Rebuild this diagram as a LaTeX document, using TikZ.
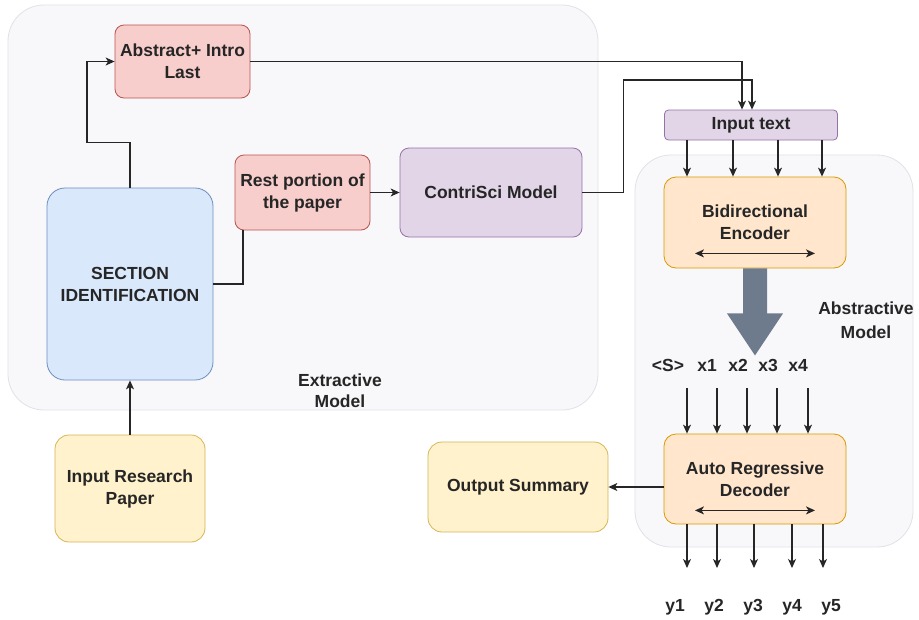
\documentclass[tikz,border=0pt]{standalone}
\usepackage{fontspec}
\setmainfont{Liberation Sans}
\usetikzlibrary{arrows.meta}
\definecolor{pinkF}{HTML}{F8CECC}\definecolor{pinkD}{HTML}{B85450}
\definecolor{purF}{HTML}{E1D5E7}\definecolor{purD}{HTML}{9673A6}
\definecolor{bluF}{HTML}{DAE8FC}\definecolor{bluD}{HTML}{6C8EBF}
\definecolor{yelF}{HTML}{FFF2CC}\definecolor{yelD}{HTML}{D6B656}
\definecolor{orgF}{HTML}{FFE6CC}\definecolor{orgD}{HTML}{D79B00}
\definecolor{contF}{HTML}{F8F7FA}\definecolor{contD}{HTML}{E2E1E7}
\definecolor{txt}{HTML}{262626}\definecolor{lin}{HTML}{262626}
\definecolor{bigA}{HTML}{6D7B8D}
\begin{document}
\begin{tikzpicture}[x=1pt,y=-1pt,
  box/.style={draw, line width=0.8pt, rounded corners=9pt, align=center,
    font=\bfseries\fontsize{17.5}{22}\selectfont, text=txt, inner sep=0pt},
  pinkbox/.style={box, fill=pinkF, draw=pinkD},
  purbox/.style={box, fill=purF, draw=purD},
  blubox/.style={box, fill=bluF, draw=bluD},
  yelbox/.style={box, fill=yelF, draw=yelD},
  orgbox/.style={box, fill=orgF, draw=orgD},
  cont/.style={fill=contF, draw=contD, line width=0.8pt, rounded corners=36pt, inner sep=0pt},
  lbl/.style={font=\bfseries\fontsize{17.5}{24}\selectfont, text=txt, align=center, inner sep=0pt},
  arr/.style={draw=lin, line width=1.1pt, -{Stealth[length=9pt,width=8pt,inset=2.5pt]}},
  dbl/.style={draw=lin, line width=1.1pt, {Stealth[length=9pt,width=8pt,inset=2.5pt]}-{Stealth[length=9pt,width=8pt,inset=2.5pt]}},
  ln/.style={draw=lin, line width=1.1pt}]
\path[use as bounding box] (0,0) rectangle (919,619);
\fill[white] (0,0) rectangle (919,619);
% containers
\node[cont, minimum width=590pt, minimum height=405pt] (ext) at (303,207.5) {};
\node[cont, minimum width=278pt, minimum height=392pt] (absm) at (774,351) {};
% left nodes
\node[pinkbox, minimum width=135pt, minimum height=73pt] (abs) at (182.5,61.5) {Abstract+ Intro\\Last};
\node[pinkbox, minimum width=135pt, minimum height=75pt] (rest) at (302.5,192.5) {Rest portion of\\the paper};
\node[purbox, minimum width=182pt, minimum height=89pt] (contri) at (491,192.5) {ContriSci Model};
\node[blubox, rounded corners=18pt, minimum width=166pt, minimum height=192pt] (sec) at (130,284) {SECTION\\IDENTIFICATION};
\node[yelbox, rounded corners=14pt, minimum width=150pt, minimum height=107pt] (inp) at (130,488.5) {Input Research\\Paper};
\node[yelbox, rounded corners=14pt, minimum width=180pt, minimum height=90pt] (out) at (518,487) {Output Summary};
\node[lbl, font=\bfseries\fontsize{17.5}{21}\selectfont] (extl) at (340,390.5) {Extractive\\Model};
% right nodes
\node[purbox, rounded corners=4pt, minimum width=173pt, minimum height=30pt] (intext) at (751,125) {Input text};
\node[orgbox, rounded corners=12pt, minimum width=182pt, minimum height=91pt] (enc) at (755,222.5) {Bidirectional\\Encoder};
\node[orgbox, rounded corners=12pt, minimum width=182pt, minimum height=90pt] (dec) at (755,479) {Auto Regressive\\Decoder};
\node[lbl] (absl) at (866,320) {Abstractive\\Model};
% tokens
\node[lbl] (tk0) at (668,365) {<S>};
\node[lbl] (tk1) at (707,365) {x1};
\node[lbl] (tk2) at (738,365) {x2};
\node[lbl] (tk3) at (768,365) {x3};
\node[lbl] (tk4) at (798,365) {x4};
\node[lbl] (y1) at (675,607) {y1};
\node[lbl] (y2) at (714,607) {y2};
\node[lbl] (y3) at (753,607) {y3};
\node[lbl] (y4) at (792,607) {y4};
\node[lbl] (y5) at (831,607) {y5};
% connectors left
\draw[arr] (sec.north) -- ++(0,-45) -- ++(-43,0) |- (abs.west);
\draw[ln] (sec.east) -| ([xshift=-59.5pt]rest.south);
\draw[arr] (rest.east) -- (contri.west);
\draw[arr] (inp.north) -- (sec.south);
\draw[arr] (abs.east) -| ([xshift=-9pt]intext.north);
\draw[arr] (contri.east) -- ++(41,0) -- ++(0,-112.5) -| ([xshift=1pt]intext.north);
\draw[arr] (out.east -| dec.west) -- (out.east);
% input text to encoder
\foreach \x in {687,733,778,822}{
  \coordinate (t) at (\x,0);
  \draw[arr] (intext.south -| t) -- (enc.north -| t);
}
% double arrows
\draw[dbl] ([xshift=-60pt,yshift=15pt]enc.south) -- ([xshift=60pt,yshift=15pt]enc.south);
\draw[dbl] ([xshift=-60pt,yshift=14pt]dec.south) -- ([xshift=60pt,yshift=14pt]dec.south);
% big arrow
\fill[bigA] ([xshift=-12pt]enc.south) -- ++(24,0) -- ++(0,45) -- ++(16,0) -- ++(-28,42) -- ++(-28,-42) -- ++(16,0) -- cycle;
% tokens to decoder
\foreach \x in {687,717,747,777,808}{
  \coordinate (t) at (\x,388);
  \draw[arr] (t) -- (dec.north -| t);
}
% decoder outputs
\foreach \x in {687,717,754,792,823}{
  \coordinate (t) at (\x,568);
  \draw[arr] (dec.south -| t) -- (t);
}
\end{tikzpicture}
\end{document}
